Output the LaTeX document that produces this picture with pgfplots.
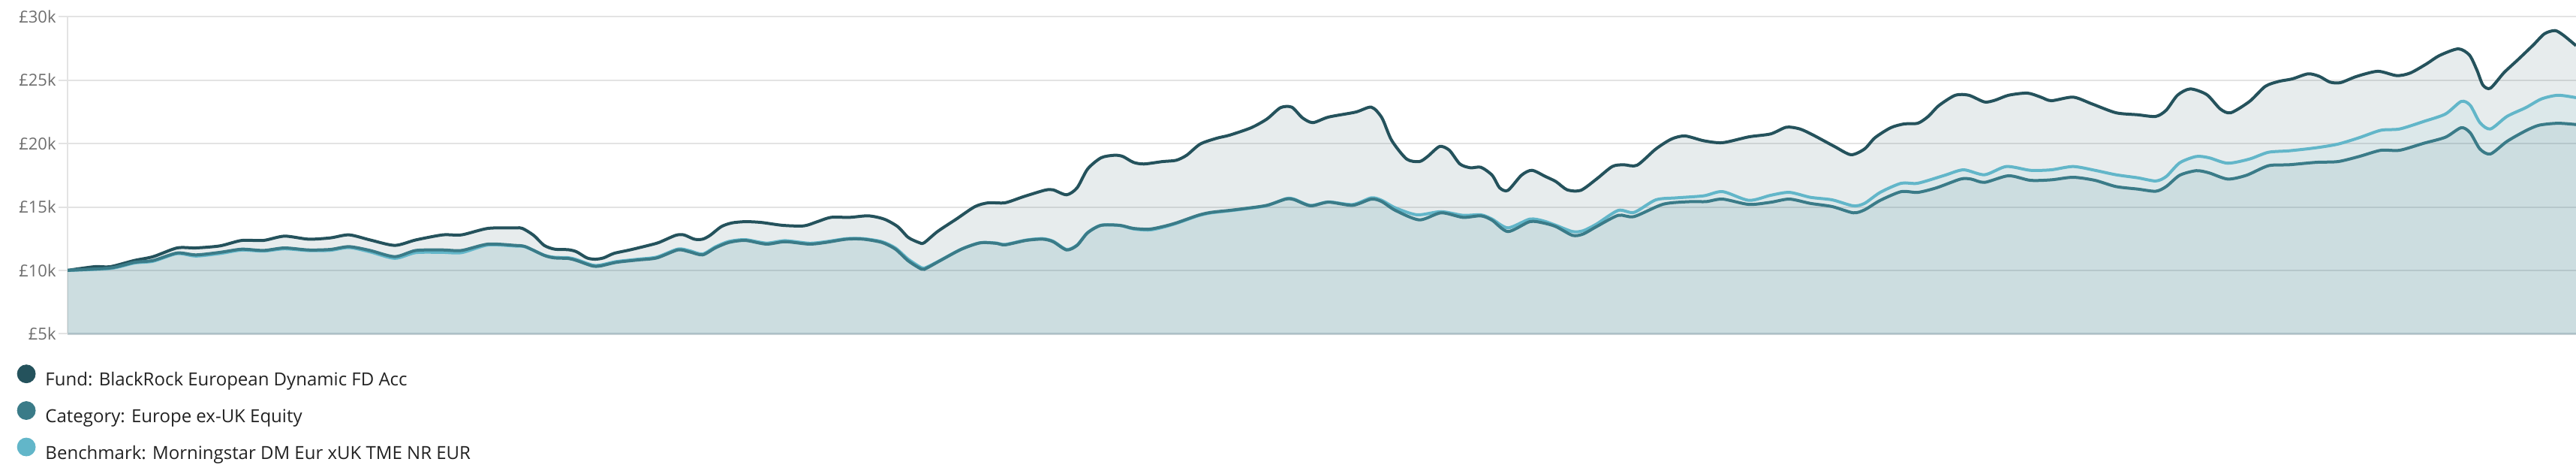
\documentclass[border=0pt]{standalone}
\usepackage{pgfplots}
\usepackage{pgfplotstable}
\pgfplotsset{compat=1.18}
\usepackage{fontspec}
\setmainfont{Open Sans}
\definecolor{fundc}{HTML}{24525C}
\definecolor{catc}{HTML}{3A7B88}
\definecolor{benc}{HTML}{62B6C9}
\definecolor{gridc}{HTML}{E3E3E3}
\definecolor{basec}{HTML}{C8D2D6}
\definecolor{tickc}{HTML}{6E6E6E}
\definecolor{legc}{HTML}{222222}

\pgfplotstableread{
x y
90 10000
126 10290
147 10290
179 10780
204 11080
236 11770
261 11770
293 11930
322 12360
351 12360
379 12700
411 12460
440 12560
465 12800
493 12400
526 11970
554 12400
590 12800
615 12800
650 13310
686 13350
696 13310
711 12760
725 11970
739 11670
757 11630
768 11470
782 10980
793 10880
804 10980
818 11340
839 11610
864 11970
878 12200
900 12760
911 12800
925 12460
936 12460
946 12760
961 13450
975 13740
993 13840
1014 13780
1043 13550
1071 13510
1089 13840
1107 14180
1132 14180
1157 14300
1178 14040
1196 13450
1210 12600
1224 12200
1231 12170
1249 13060
1274 14040
1299 15030
1317 15330
1339 15330
1364 15820
1392 16320
1403 16350
1421 15960
1435 16510
1449 17990
1467 18880
1485 19080
1496 18980
1510 18520
1524 18390
1549 18580
1567 18680
1581 19080
1599 19960
1621 20420
1638 20660
1667 21250
1688 21940
1706 22830
1721 22870
1735 22040
1749 21650
1770 22090
1806 22480
1827 22870
1841 22040
1854 20260
1874 18780
1891 18580
1902 18980
1918 19770
1931 19470
1945 18390
1959 18090
1973 18130
1988 17500
1998 16510
2009 16310
2027 17500
2041 17890
2059 17400
2073 17000
2088 16350
2106 16310
2127 17200
2148 18190
2163 18330
2181 18290
2206 19570
2227 20360
2245 20600
2270 20220
2295 20070
2330 20530
2359 20760
2380 21290
2398 21150
2416 20660
2444 19770
2466 19120
2484 19570
2498 20460
2519 21250
2537 21550
2555 21600
2569 22140
2583 22990
2605 23810
2623 23810
2644 23280
2658 23420
2676 23810
2701 23980
2719 23660
2733 23380
2762 23660
2787 23130
2819 22430
2848 22270
2872 22140
2886 22630
2901 23810
2918 24310
2940 23860
2958 22730
2972 22430
2997 23320
3018 24510
3036 24900
3054 25100
3075 25500
3090 25300
3104 24850
3118 24800
3140 25300
3168 25700
3193 25360
3211 25560
3233 26290
3250 26940
3275 27470
3290 26980
3300 25790
3308 24610
3318 24370
3336 25590
3354 26580
3375 27770
3390 28660
3404 28910
3415 28550
3432 27720
}\fundtable

\pgfplotstableread{
x y
90 10000
147 10190
179 10630
204 10780
236 11370
261 11220
293 11420
322 11670
351 11570
379 11770
411 11610
440 11650
465 11870
493 11570
526 11080
554 11570
590 11610
615 11570
650 12070
686 11970
700 11870
725 11180
739 10980
757 10940
768 10780
789 10350
800 10350
821 10630
850 10820
875 10980
903 11610
918 11470
936 11220
953 11770
971 12200
993 12360
1021 12070
1046 12260
1078 12070
1100 12200
1128 12460
1150 12460
1175 12200
1193 11670
1210 10750
1228 10090
1235 10190
1253 10780
1281 11670
1306 12170
1328 12130
1339 12010
1367 12360
1389 12460
1403 12260
1421 11610
1435 11970
1449 12960
1467 13550
1492 13550
1510 13310
1531 13250
1549 13450
1567 13740
1596 14340
1613 14570
1638 14730
1660 14890
1688 15130
1713 15620
1724 15580
1746 15090
1770 15380
1802 15130
1827 15620
1841 15420
1859 14730
1891 13980
1920 14540
1949 14180
1973 14300
1988 13950
2009 13060
2038 13840
2056 13740
2073 13450
2095 12760
2109 12860
2127 13450
2156 14340
2177 14240
2216 15220
2252 15420
2273 15420
2295 15620
2330 15200
2359 15370
2384 15620
2412 15280
2441 15030
2469 14540
2484 14770
2505 15520
2533 16210
2555 16150
2580 16510
2612 17200
2626 17200
2644 16940
2676 17460
2705 17100
2733 17140
2762 17340
2791 17100
2819 16610
2848 16410
2872 16240
2886 16610
2904 17500
2926 17860
2943 17690
2968 17200
2993 17500
3022 18250
3050 18330
3086 18520
3115 18580
3143 18980
3172 19470
3197 19470
3229 20020
3258 20500
3279 21250
3291 20850
3304 19570
3318 19180
3340 20170
3365 21010
3383 21450
3408 21600
3432 21500
}\cattable

\pgfplotstableread{
x y
90 10000
147 10150
179 10580
204 10720
236 11320
261 11130
293 11330
322 11600
351 11520
379 11700
411 11560
440 11580
465 11800
493 11460
526 10950
554 11400
590 11420
615 11400
650 12000
686 11920
700 11850
725 11200
739 11030
757 11000
768 10850
789 10420
800 10420
821 10690
850 10880
875 11050
903 11680
918 11560
936 11290
953 11850
971 12280
993 12420
1021 12150
1046 12340
1078 12140
1100 12260
1128 12500
1150 12500
1175 12260
1193 11760
1210 10880
1228 10200
1235 10260
1253 10800
1281 11680
1306 12180
1328 12150
1339 12040
1367 12390
1389 12500
1403 12300
1421 11650
1435 12000
1449 12980
1467 13560
1492 13540
1510 13270
1531 13180
1549 13390
1567 13700
1596 14300
1613 14530
1638 14700
1660 14860
1688 15110
1713 15650
1724 15620
1746 15120
1770 15400
1802 15190
1827 15720
1841 15520
1859 14930
1888 14380
1920 14630
1949 14340
1973 14380
1988 14040
2009 13350
2038 14040
2056 13900
2073 13550
2095 13060
2109 13120
2127 13650
2156 14730
2177 14570
2206 15560
2234 15720
2270 15880
2295 16210
2330 15520
2359 15920
2384 16150
2412 15760
2441 15560
2469 15090
2484 15280
2505 16150
2533 16870
2555 16870
2591 17500
2616 17930
2644 17540
2673 18190
2705 17890
2733 17930
2762 18190
2791 17890
2819 17540
2848 17300
2872 17050
2886 17400
2904 18480
2926 18980
2943 18880
2968 18450
2997 18780
3022 19310
3050 19430
3086 19670
3115 19960
3143 20460
3172 21050
3197 21150
3229 21740
3258 22330
3279 23320
3291 23020
3304 21650
3318 21150
3340 22140
3365 22830
3386 23520
3408 23810
3432 23620
}\bentable

\begin{document}
\begin{tikzpicture}
\path[use as bounding box] (0,0) rectangle (1716pt,311pt);
\begin{axis}[
  at={(45pt,88.85pt)}, anchor=south west,
  scale only axis, width=1671pt, height=211pt,
  xmin=90, xmax=3432, ymin=5000, ymax=30000,
  xtick=\empty,
  ytick={5000,10000,15000,20000,25000,30000},
  yticklabels={£5k,£10k,£15k,£20k,£25k,£30k},
  scaled y ticks=false,
  ymajorgrids,
  grid style={draw=gridc, line width=1pt},
  axis x line*=bottom, axis y line*=left,
  x axis line style={draw=basec, line width=1.2pt, -},
  y axis line style={draw=gridc, line width=1pt, -},
  major tick length=6pt, tick align=outside,
  tick style={draw=gridc, line width=1pt},
  yticklabel style={font=\fontsize{11}{13}\selectfont, text=tickc, inner xsep=1.5pt},
  /pgf/number format/assume math mode=true,
  legend cell align=left,
  legend style={draw=none, fill=none, at={(0,0)}, anchor=north west,
    xshift=-33.65pt, yshift=-20.5pt, inner sep=0pt, outer sep=0pt,
    row sep=8.6pt, column sep=6.5pt,
    font=\fontsize{12}{14}\selectfont, text=legc,
    nodes={inner sep=0pt, outer sep=0pt}},
]
\addplot[draw=none, fill=fundc, fill opacity=0.11, smooth, tension=0.45, forget plot] table {\fundtable} \closedcycle;
\addplot[draw=none, fill=benc, fill opacity=0.08, smooth, tension=0.45, forget plot] table {\bentable} \closedcycle;
\addplot[draw=none, fill=catc, fill opacity=0.10, smooth, tension=0.45, forget plot] table {\cattable} \closedcycle;
\addplot[fundc, line width=2pt, smooth, tension=0.45, forget plot] table {\fundtable};
\addplot[benc, line width=2pt, smooth, tension=0.45, forget plot] table {\bentable};
\addplot[catc, line width=2pt, smooth, tension=0.45, forget plot] table {\cattable};
\addlegendimage{legend image code/.code={\fill[fundc] (6pt,4.3pt) circle (6pt);}}
\addlegendentry{Fund: BlackRock European Dynamic FD Acc}
\addlegendimage{legend image code/.code={\fill[catc] (6pt,4.3pt) circle (6pt);}}
\addlegendentry{Category: Europe ex-UK Equity}
\addlegendimage{legend image code/.code={\fill[benc] (6pt,4.3pt) circle (6pt);}}
\addlegendentry{Benchmark: Morningstar DM Eur xUK TME NR EUR}
\end{axis}
\end{tikzpicture}
\end{document}
